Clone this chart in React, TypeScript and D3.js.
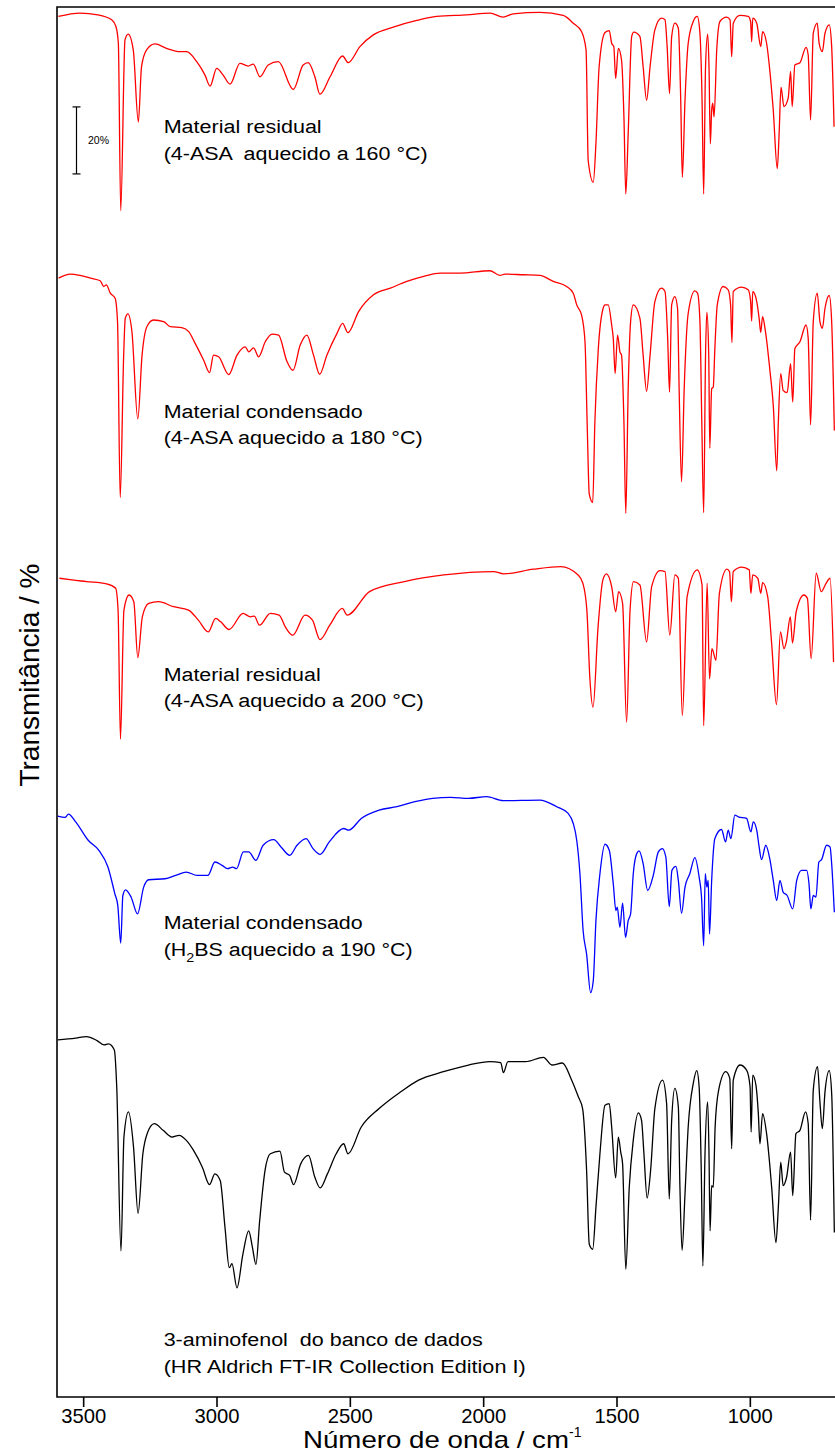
import React from "react";
import * as d3 from "d3";

// ---------------------------------------------------------------------------
// FT-IR spectra: [wavenumber (cm^-1), transmittance (%)]
// ---------------------------------------------------------------------------
const residual160: [number, number][] = [
  [3595, 98.9], [3514, 99.9], [3447, 99.4], [3395, 97.9], [3379, 95.9], [3370, 91.0], [3361, 40.9],
  [3345, 91.9], [3333, 93.6], [3314, 88.9], [3295, 67.4], [3283, 83.9], [3264, 88.9], [3233, 90.7],
  [3189, 89.4], [3139, 88.4], [3114, 88.4], [3076, 85.4], [3045, 81.4], [3026, 78.1], [3001, 83.4],
  [2977, 81.4], [2951, 78.7], [2914, 84.9], [2883, 84.1], [2864, 84.7], [2839, 80.9], [2808, 84.4],
  [2770, 85.4], [2714, 77.1], [2677, 84.4], [2658, 85.1], [2633, 80.9], [2614, 75.7], [2576, 80.9],
  [2529, 87.1], [2508, 85.1], [2464, 89.9], [2414, 93.4], [2339, 95.7], [2251, 97.7], [2176, 98.9],
  [2064, 99.4], [1976, 99.9], [1927, 98.7], [1889, 99.7], [1789, 100.1], [1702, 99.2], [1664, 96.9],
  [1633, 94.4], [1616, 88.9], [1608, 55.9], [1589, 49.4], [1579, 61.0], [1567, 83.9], [1545, 94.1],
  [1529, 94.7], [1520, 90.9], [1512, 89.9], [1505, 80.4], [1495, 89.4], [1483, 85.9], [1474, 68.9],
  [1467, 45.9], [1458, 64.0], [1445, 92.9], [1437, 94.2], [1414, 92.9], [1402, 83.9], [1389, 73.9],
  [1376, 83.9], [1358, 94.9], [1333, 98.4], [1320, 97.9], [1312, 89.9], [1303, 75.9], [1295, 92.9],
  [1283, 96.9], [1270, 95.4], [1261, 73.9], [1255, 50.9], [1245, 73.9], [1233, 90.9], [1214, 97.4],
  [1199, 98.9], [1189, 93.9], [1181, 73.9], [1175, 45.9], [1168, 83.9], [1160, 93.6], [1155, 83.9],
  [1150, 60.9], [1145, 70.9], [1141, 73.0], [1136, 68.9], [1126, 88.9], [1114, 97.4], [1089, 98.7],
  [1076, 97.9], [1070, 86.9], [1064, 96.9], [1039, 99.2], [1008, 98.9], [999, 97.4], [995, 91.4],
  [991, 98.4], [976, 96.9], [961, 89.9], [954, 94.4], [939, 90.9], [926, 82.0], [914, 70.9],
  [899, 53.5], [892, 64.0], [885, 77.8], [874, 72.0], [858, 74.5], [849, 82.5], [843, 72.0],
  [833, 84.4], [814, 85.1], [791, 89.7], [783, 87.4], [774, 68.0], [764, 93.9], [749, 96.9],
  [742, 90.9], [730, 88.4], [720, 93.9], [704, 96.4], [695, 89.9], [686, 66.0],
];

const condensed180: [number, number][] = [
  [3594, 97.8], [3550, 99.0], [3513, 98.6], [3475, 97.8], [3438, 97.0], [3425, 95.3], [3415, 95.8],
  [3400, 93.3], [3382, 91.8], [3373, 84.8], [3363, 32.3], [3350, 74.8], [3344, 85.8], [3334, 87.1],
  [3319, 81.8], [3297, 55.8], [3281, 74.8], [3263, 83.3], [3238, 85.3], [3200, 84.8], [3175, 83.3],
  [3132, 83.0], [3106, 81.8], [3082, 78.3], [3050, 73.3], [3028, 69.6], [3013, 74.8], [2994, 74.3],
  [2956, 69.0], [2925, 74.8], [2894, 77.3], [2881, 75.8], [2863, 77.0], [2844, 74.3], [2819, 78.8],
  [2794, 81.1], [2769, 80.8], [2738, 73.0], [2715, 70.3], [2688, 77.8], [2663, 80.8], [2638, 74.8],
  [2615, 69.1], [2588, 74.8], [2550, 81.3], [2529, 84.3], [2509, 81.5], [2469, 87.8], [2413, 92.8],
  [2350, 94.8], [2288, 96.8], [2225, 98.3], [2163, 99.3], [2089, 99.3], [1977, 100.0], [1939, 98.6],
  [1920, 99.0], [1852, 98.8], [1789, 98.6], [1739, 96.8], [1689, 95.3], [1664, 93.3], [1651, 89.8],
  [1633, 86.8], [1620, 78.8], [1612, 54.8], [1604, 33.3], [1591, 30.8], [1583, 54.8], [1570, 76.8],
  [1552, 88.8], [1545, 89.8], [1533, 89.8], [1520, 83.8], [1514, 79.8], [1507, 69.3], [1498, 80.8],
  [1489, 75.8], [1483, 74.8], [1474, 54.8], [1467, 27.6], [1458, 64.8], [1449, 84.8], [1439, 89.8],
  [1414, 85.8], [1402, 74.8], [1389, 64.0], [1376, 74.8], [1358, 90.8], [1333, 94.8], [1320, 93.8],
  [1310, 79.8], [1303, 63.8], [1295, 89.8], [1283, 92.3], [1273, 88.8], [1267, 64.8], [1258, 37.0],
  [1248, 64.8], [1233, 87.3], [1208, 94.0], [1198, 93.3], [1189, 84.8], [1182, 54.8], [1175, 27.8],
  [1168, 74.8], [1163, 87.6], [1156, 74.8], [1152, 47.0], [1145, 64.8], [1139, 65.3], [1133, 76.8],
  [1124, 89.8], [1102, 95.3], [1083, 94.3], [1074, 89.8], [1069, 78.6], [1064, 93.8], [1033, 95.1],
  [1008, 94.3], [999, 90.8], [995, 85.0], [991, 93.8], [976, 90.8], [967, 85.8], [961, 81.6],
  [954, 86.3], [945, 82.8], [926, 69.8], [914, 59.8], [901, 40.3], [895, 54.8], [886, 69.3],
  [877, 64.3], [862, 63.6], [849, 72.3], [841, 60.8], [833, 76.8], [814, 78.8], [791, 83.8],
  [783, 79.8], [774, 54.0], [764, 84.8], [749, 93.3], [739, 84.8], [730, 82.8], [720, 88.8],
  [704, 92.6], [695, 84.8], [685, 52.3],
];

const residual200: [number, number][] = [
  [3591, 96.6], [3544, 96.1], [3489, 95.6], [3414, 94.9], [3380, 93.6], [3371, 87.1], [3362, 48.6],
  [3349, 87.1], [3330, 91.6], [3312, 89.6], [3297, 72.9], [3280, 85.1], [3256, 89.1], [3219, 89.6],
  [3163, 88.1], [3107, 87.1], [3070, 84.1], [3033, 80.6], [3005, 84.6], [2986, 83.6], [2955, 81.3],
  [2902, 86.1], [2875, 85.1], [2860, 85.3], [2841, 82.6], [2800, 86.1], [2767, 85.6], [2744, 82.1],
  [2716, 79.6], [2670, 85.6], [2642, 84.1], [2614, 78.3], [2577, 82.6], [2530, 87.6], [2512, 85.6],
  [2428, 92.6], [2297, 95.6], [2149, 97.6], [1963, 98.6], [1925, 97.9], [1814, 99.3], [1711, 100.1],
  [1646, 97.6], [1628, 95.1], [1613, 87.1], [1602, 67.1], [1590, 58.1], [1571, 82.1], [1553, 96.1],
  [1540, 97.9], [1520, 94.1], [1505, 86.6], [1494, 92.6], [1479, 89.1], [1464, 53.6], [1451, 87.1],
  [1438, 95.6], [1414, 94.6], [1389, 77.6], [1370, 94.1], [1339, 98.9], [1320, 98.6], [1302, 79.6],
  [1283, 97.6], [1270, 96.6], [1255, 55.6], [1237, 91.1], [1199, 99.1], [1181, 94.6], [1175, 52.6],
  [1162, 95.1], [1153, 66.6], [1144, 75.6], [1129, 72.1], [1116, 92.1], [1088, 99.3], [1078, 98.6],
  [1071, 89.6], [1064, 98.6], [1032, 99.9], [1004, 99.1], [998, 92.1], [991, 97.6], [972, 96.6],
  [961, 92.1], [954, 95.3], [935, 91.1], [920, 77.1], [902, 58.9], [887, 80.6], [874, 75.6],
  [865, 77.6], [850, 85.1], [842, 77.3], [828, 86.6], [799, 91.6], [786, 90.6], [772, 72.6],
  [753, 98.1], [734, 92.6], [716, 95.1], [701, 96.6], [688, 71.6],
];

const condensedH2BS: [number, number][] = [
  [3597, 94.3], [3570, 93.9], [3557, 94.9], [3530, 92.6], [3483, 87.1], [3443, 84.1], [3409, 79.1],
  [3383, 71.1], [3372, 67.6], [3361, 56.4], [3353, 70.6], [3343, 72.3], [3322, 70.1], [3298, 65.1],
  [3275, 73.1], [3256, 75.3], [3195, 75.6], [3155, 76.6], [3115, 77.6], [3075, 76.6], [3034, 76.6],
  [3008, 80.6], [2981, 79.6], [2961, 78.6], [2941, 79.1], [2927, 78.6], [2901, 83.6], [2881, 83.6],
  [2854, 81.1], [2827, 85.6], [2787, 87.3], [2760, 85.1], [2727, 82.6], [2700, 85.6], [2666, 87.6],
  [2640, 84.6], [2613, 82.9], [2579, 86.6], [2525, 90.6], [2506, 90.1], [2459, 93.6], [2392, 96.1],
  [2325, 97.1], [2258, 98.6], [2191, 99.6], [2124, 99.9], [2057, 99.6], [1989, 100.1], [1927, 98.9],
  [1789, 99.1], [1726, 97.1], [1683, 95.1], [1664, 92.1], [1651, 87.1], [1639, 77.1], [1627, 60.1],
  [1614, 53.1], [1599, 41.6], [1589, 45.1], [1579, 63.1], [1564, 77.1], [1545, 85.9], [1529, 84.1],
  [1514, 74.1], [1504, 66.1], [1499, 67.1], [1489, 61.1], [1479, 68.3], [1468, 58.1], [1458, 63.1],
  [1449, 65.1], [1439, 77.1], [1426, 83.1], [1417, 83.9], [1402, 80.1], [1385, 72.1], [1364, 76.6],
  [1345, 83.6], [1330, 84.6], [1317, 82.1], [1304, 67.3], [1294, 78.1], [1279, 79.3], [1270, 75.1],
  [1258, 65.3], [1245, 73.1], [1227, 77.1], [1208, 81.9], [1192, 76.1], [1183, 70.1], [1175, 55.6],
  [1169, 77.1], [1163, 73.1], [1158, 75.1], [1153, 59.1], [1145, 75.1], [1133, 87.6], [1108, 90.3],
  [1093, 86.6], [1083, 90.1], [1073, 87.6], [1058, 94.6], [1045, 94.1], [1014, 93.6], [998, 89.6],
  [989, 92.6], [976, 90.1], [967, 85.1], [958, 81.3], [942, 85.6], [926, 81.1], [914, 75.1],
  [901, 69.1], [889, 75.1], [877, 71.6], [862, 70.6], [841, 66.6], [826, 75.1], [808, 78.1],
  [789, 78.1], [780, 74.1], [773, 66.6], [764, 70.6], [754, 70.1], [743, 80.6], [733, 81.3],
  [714, 85.6], [701, 85.1], [695, 80.1], [685, 65.6],
];

const aminophenolRef: [number, number][] = [
  [3597, 99.1], [3530, 99.6], [3490, 100.1], [3450, 98.9], [3423, 97.6], [3407, 97.9], [3385, 96.1],
  [3376, 85.1], [3360, 36.1], [3349, 70.1], [3332, 77.6], [3313, 67.1], [3296, 47.3], [3278, 65.1],
  [3262, 71.1], [3235, 74.1], [3202, 72.1], [3169, 70.1], [3142, 70.6], [3115, 69.1], [3088, 66.1],
  [3055, 61.1], [3028, 55.9], [3008, 59.1], [2988, 57.1], [2970, 43.1], [2954, 31.1], [2944, 32.3],
  [2925, 25.1], [2903, 35.1], [2881, 42.1], [2867, 37.1], [2854, 32.1], [2840, 45.1], [2820, 60.1],
  [2800, 65.1], [2764, 65.9], [2747, 59.6], [2727, 58.6], [2713, 55.9], [2686, 62.1], [2657, 64.6],
  [2633, 58.1], [2613, 54.9], [2586, 59.1], [2553, 65.1], [2525, 68.1], [2509, 65.1], [2459, 73.1],
  [2392, 78.6], [2311, 83.6], [2244, 87.1], [2151, 89.6], [2057, 91.6], [1977, 92.6], [1936, 92.3],
  [1926, 89.3], [1909, 92.6], [1843, 92.6], [1776, 93.9], [1744, 91.6], [1705, 92.2], [1669, 86.9],
  [1645, 82.1], [1629, 78.6], [1614, 60.1], [1604, 38.1], [1591, 36.6], [1579, 49.1], [1564, 65.1],
  [1545, 79.6], [1529, 80.1], [1520, 73.1], [1505, 57.9], [1495, 70.1], [1486, 65.6], [1479, 62.1],
  [1467, 30.6], [1454, 55.1], [1439, 69.1], [1420, 77.3], [1408, 75.1], [1399, 65.1], [1387, 51.9],
  [1374, 60.1], [1358, 78.6], [1329, 87.1], [1314, 80.1], [1304, 51.6], [1295, 75.1], [1283, 84.6],
  [1270, 79.1], [1264, 55.1], [1256, 36.3], [1245, 53.1], [1233, 73.1], [1214, 86.1], [1201, 89.9],
  [1192, 85.1], [1184, 60.1], [1178, 31.6], [1170, 65.1], [1160, 80.6], [1155, 65.1], [1151, 42.1],
  [1145, 55.6], [1139, 55.1], [1132, 73.1], [1120, 83.6], [1092, 89.6], [1077, 87.6], [1070, 66.6],
  [1064, 87.1], [1039, 91.6], [1014, 90.1], [1001, 85.1], [997, 71.6], [991, 88.6], [979, 85.6],
  [970, 77.1], [964, 68.1], [954, 77.1], [939, 71.1], [920, 55.1], [904, 38.6], [895, 49.1],
  [886, 62.6], [877, 55.6], [864, 58.1], [849, 65.6], [841, 52.6], [829, 71.1], [814, 72.1],
  [793, 77.6], [783, 74.1], [774, 45.3], [764, 84.1], [748, 91.1], [739, 80.6], [730, 72.6],
  [720, 83.6], [704, 89.9], [695, 83.1], [685, 41.6],
];

// vertical stacking offsets (% units) and trace colours, top to bottom
const stackOffsets = [313.2, 236.2, 147.8, 79.1, 7.5];
const traceColors = ["#ff0000", "#ff0000", "#ff0000", "#0000ff", "#000000"];

const xTicks = [3500, 3000, 2500, 2000, 1500, 1000];

// scale bar: top of the bar in stacked % units and its span
const scaleBarTop = 385.1;
const scaleBarSpan = 20;

// ---------------------------------------------------------------------------
const W = 835;
const H = 1454;
const LEFT = 57;
const TOP = 7;
const BOTTOM = 1397;
const PX_PER_PCT = 3.35;
const PX_PER_WN = 1 / 3.75;

const FONT = "'Liberation Sans', Arial, Helvetica, sans-serif";

const x = d3
  .scaleLinear()
  .domain([3600, 650])
  .range([LEFT, LEFT + (3600 - 650) * PX_PER_WN]);
const y = d3
  .scaleLinear()
  .domain([0, (BOTTOM - TOP) / PX_PER_PCT])
  .range([BOTTOM, TOP]);

const spectra = [residual160, condensed180, residual200, condensedH2BS, aminophenolRef];

type Label = { lines: string[]; baselines: number[]; widths: number[] };
const labels: Label[] = [
  { lines: ["Material residual", "(4-ASA  aquecido a 160 °C)"], baselines: [133, 160], widths: [158, 264] },
  { lines: ["Material condensado", "(4-ASA aquecido a 180 °C)"], baselines: [418, 444], widths: [199, 259] },
  { lines: ["Material residual", "(4-ASA aquecido a 200 °C)"], baselines: [681, 707], widths: [157, 260] },
  { lines: ["Material condensado", "(H2BS aquecido a 190 °C)"], baselines: [929, 956], widths: [199, 249] },
  {
    lines: ["3-aminofenol  do banco de dados", "(HR Aldrich FT-IR Collection Edition I)"],
    baselines: [1346, 1373],
    widths: [319, 362],
  },
];

export default function App() {
  const labelX = x(3200);
  const line = (i: number) =>
    d3
      .line<[number, number]>()
      .x((d) => x(d[0]))
      .y((d) => y(stackOffsets[i] + d[1]))
      .curve(d3.curveMonotoneX);

  return (
    <div style={{ position: "absolute", left: 0, top: 0, width: W, height: H, background: "#fff" }}>
      <svg width={W} height={H} viewBox={`0 0 ${W} ${H}`} style={{ display: "block" }}>
        <rect x={0} y={0} width={W} height={H} fill="#ffffff" />
        <defs>
          <clipPath id="plotClip">
            <rect x={LEFT} y={TOP} width={W - LEFT} height={BOTTOM - TOP} />
          </clipPath>
        </defs>

        {/* spectra */}
        <g clipPath="url(#plotClip)">
          {spectra.map((data, i) => (
            <path
              key={i}
              d={line(i)(data) || ""}
              fill="none"
              stroke={traceColors[i]}
              strokeWidth={1.3}
              strokeLinejoin="round"
            />
          ))}
        </g>

        {/* frame */}
        <path
          d={`M${W + 2},${TOP} H${LEFT} V${BOTTOM} H${W + 2}`}
          fill="none"
          stroke="#000"
          strokeWidth={1.6}
        />

        {/* x ticks and labels */}
        {xTicks.map((t) => (
          <g key={t}>
            <line x1={x(t)} x2={x(t)} y1={BOTTOM} y2={BOTTOM + 10} stroke="#000" strokeWidth={1.6} />
            <text
              x={x(t)}
              y={1423}
              textAnchor="middle"
              fontFamily={FONT}
              fontSize={21}
              textLength={45}
              lengthAdjust="spacingAndGlyphs"
              fill="#000"
            >
              {t}
            </text>
          </g>
        ))}

        {/* axis titles */}
        <text x={303} y={1448} fontFamily={FONT} fontSize={24} fill="#000">
          <tspan textLength={266} lengthAdjust="spacingAndGlyphs">Número de onda / cm</tspan>
          <tspan fontSize={14} dy={-11}>-1</tspan>
        </text>
        <text
          transform={`translate(38.5, 675) rotate(-90)`}
          textAnchor="middle"
          fontFamily={FONT}
          fontSize={28}
          fill="#000"
        >
          Transmitância / %
        </text>

        {/* 20 % scale bar */}
        <g stroke="#000" strokeWidth={1.2}>
          <line x1={76.5} x2={76.5} y1={y(scaleBarTop)} y2={y(scaleBarTop - scaleBarSpan)} />
          <line x1={72.5} x2={80.5} y1={y(scaleBarTop)} y2={y(scaleBarTop)} />
          <line x1={72.5} x2={80.5} y1={y(scaleBarTop - scaleBarSpan)} y2={y(scaleBarTop - scaleBarSpan)} />
        </g>
        <text
          x={88}
          y={(y(scaleBarTop) + y(scaleBarTop - scaleBarSpan)) / 2 + 4}
          fontFamily={FONT}
          fontSize={10.5}
          fill="#000"
        >
          20%
        </text>

        {/* trace annotations */}
        {labels.map((lab, i) => (
          <g key={i}>
            {lab.lines.map((ln, j) => {
              if (ln.startsWith("(H2BS")) {
                return (
                  <text
                    key={j}
                    x={labelX}
                    y={lab.baselines[j]}
                    fontFamily={FONT}
                    fontSize={18}
                    fill="#000"
                    textLength={lab.widths[j]}
                    lengthAdjust="spacingAndGlyphs"
                  >
                    (H
                    <tspan fontSize={12} dy={6}>2</tspan>
                    <tspan dy={-6}>BS aquecido a 190 °C)</tspan>
                  </text>
                );
              }
              return (
                <text
                  key={j}
                  x={labelX}
                  y={lab.baselines[j]}
                  fontFamily={FONT}
                  fontSize={18}
                  fill="#000"
                  textLength={lab.widths[j]}
                  lengthAdjust="spacingAndGlyphs"
                  style={{ whiteSpace: "pre" }}
                >
                  {ln}
                </text>
              );
            })}
          </g>
        ))}
      </svg>
    </div>
  );
}
